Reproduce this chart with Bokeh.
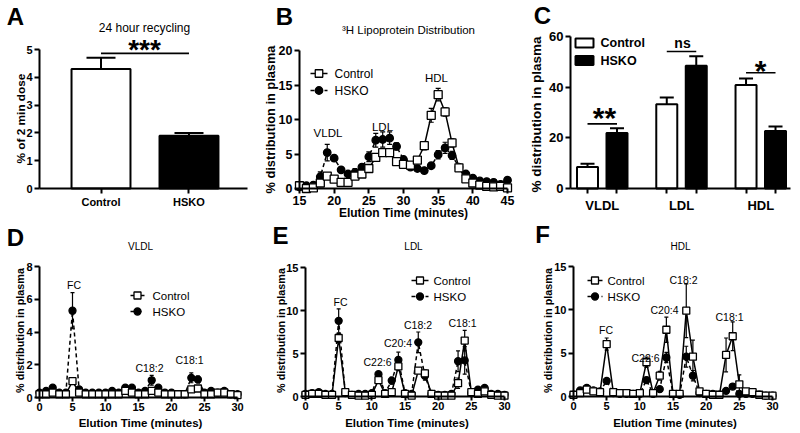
import math
from bokeh.plotting import figure
from bokeh.layouts import row, column
from bokeh.models import ColumnDataSource, Whisker, TeeHead, Label, FixedTicker, Range1d
from bokeh.embed import file_html
from bokeh.resources import INLINE

FONT = "Liberation Sans"

# ---------------- data ----------------
# Panel A
recycling_groups = ["Control", "HSKO"]
recycling_mean = [4.3, 1.9]
recycling_sem = [0.4, 0.1]
recycling_sig = "***"
recycling_yticks = [0, 1, 2, 3, 4, 5]

# Panel B
dist_time = [15, 16, 17, 18, 19, 20, 21, 22, 23, 24, 25, 26, 27, 28, 29, 30,
             31, 32, 33, 34, 35, 36, 37, 38, 39, 40, 41, 42, 43, 44, 45]
dist_control = [0.4, 0.0, 0.1, 0.8, 1.8, 1.35, 0.9, 0.9, 1.8, 2.1, 2.9, 4.5, 5.2, 5.2, 3.9, 3.5,
                3.4, 4.1, 6.2, 10.6, 13.6, 11.1, 6.6, 3.0, 1.4, 0.8, 0.5, 0.3, 0.25, 0.3, 0.1]
dist_control_err = [0.1, 0.1, 0.1, 0.2, 0.3, 0.2, 0.1, 0.1, 0.2, 0.2, 0.3, 0.3, 0.3, 0.3, 0.3, 0.2,
                    0.2, 0.3, 0.6, 1.0, 0.9, 0.6, 0.6, 0.3, 0.2, 0.1, 0.1, 0.1, 0.1, 0.1, 0.1]
dist_hsko = [0.25, 0.4, 0.5, 1.7, 5.2, 4.4, 2.7, 2.1, 2.3, 3.1, 4.6, 7.0, 7.1, 7.3, 6.1, 4.2,
             3.1, 2.9, 2.6, 3.3, 4.9, 5.9, 4.8, 3.1, 2.1, 1.5, 1.1, 1.0, 0.9, 0.6, 1.2]
dist_hsko_err = [0.1, 0.1, 0.2, 0.7, 1.2, 0.4, 0.3, 0.3, 0.6, 0.3, 0.7, 1.0, 1.1, 0.9, 0.5, 0.3,
                 0.2, 0.2, 0.2, 0.3, 0.6, 0.8, 0.6, 0.3, 0.3, 0.2, 0.2, 0.2, 0.2, 0.2, 0.3]
dist_peaks = ["VLDL", "LDL", "HDL"]
dist_xticks = [15, 20, 25, 30, 35, 40, 45]
dist_yticks = [0, 5, 10, 15, 20]

# Panel C
class_names = ["VLDL", "LDL", "HDL"]
class_control = [8.5, 33.3, 40.9]
class_control_err = [1.3, 2.6, 2.5]
class_hsko = [21.9, 48.5, 22.7]
class_hsko_err = [1.9, 3.7, 1.8]
class_sig = ["**", "ns", "*"]
class_sig_y = [25.5, 54.1, 45.7]
class_yticks = [0, 20, 40, 60]

# Panels D, E, F
ce_time = [0, 1, 2, 3, 4, 5, 6, 7, 8, 9, 10, 11, 12, 13, 14, 15,
           16, 17, 18, 19, 20, 21, 22, 23, 24, 25, 26, 27, 28, 29, 30]
ce_xticks = [0, 5, 10, 15, 20, 25, 30]

vldl_control = [0.2, 0.2, 0.3, 0.2, 0.2, 1.0, 0.3, 0.2, 0.2, 0.2, 0.2, 0.2, 0.2, 0.4, 0.3, 0.2,
                0.2, 0.4, 0.3, 0.2, 0.2, 0.2, 0.2, 0.5, 0.55, 0.2, 0.2, 0.3, 0.3, 0.2, 0.15]
vldl_control_err = [0.05, 0.05, 0.05, 0.05, 0.05, 0.15, 0.05, 0.05, 0.05, 0.05, 0.05, 0.05, 0.05, 0.1, 0.05, 0.05,
                    0.05, 0.1, 0.05, 0.05, 0.05, 0.05, 0.05, 0.15, 0.15, 0.05, 0.05, 0.05, 0.05, 0.05, 0.05]
vldl_hsko = [0.3, 0.4, 0.6, 0.3, 0.3, 5.3, 0.5, 0.3, 0.3, 0.3, 0.3, 0.4, 0.3, 0.6, 0.6, 0.3,
             0.4, 1.05, 0.6, 0.3, 0.3, 0.2, 0.2, 1.2, 1.1, 0.3, 0.4, 0.3, 0.4, 0.2, 0.2]
vldl_hsko_err = [0.1, 0.1, 0.15, 0.1, 0.1, 1.1, 0.1, 0.1, 0.1, 0.1, 0.1, 0.1, 0.1, 0.15, 0.15, 0.1,
                 0.1, 0.3, 0.1, 0.1, 0.1, 0.1, 0.1, 0.3, 0.2, 0.1, 0.1, 0.1, 0.1, 0.1, 0.1]
vldl_yticks = [0, 2, 4, 6, 8]
vldl_peaks = ["FC", "C18:2", "C18:1"]

ldl_control = [0.2, 0.3, 0.3, 0.2, 0.2, 6.8, 0.5, 0.2, 0.1, 0.1, 0.2, 1.9, 0.3, 0.5, 3.5, 0.3,
               0.1, 3.0, 2.7, 0.3, 0.1, 0.1, 0.1, 1.55, 6.5, 0.5, 0.3, 0.6, 0.2, 0.1, 0.1]
ldl_control_err = [0.1, 0.1, 0.1, 0.1, 0.1, 0.5, 0.1, 0.1, 0.1, 0.1, 0.1, 0.3, 0.1, 0.2, 0.5, 0.1,
                   0.1, 0.3, 0.4, 0.1, 0.1, 0.1, 0.1, 0.6, 1.2, 0.1, 0.1, 0.2, 0.1, 0.1, 0.1]
ldl_hsko = [0.3, 0.4, 0.5, 0.3, 0.3, 8.8, 0.4, 0.2, 0.3, 0.3, 0.4, 2.6, 0.4, 1.85, 4.25, 0.4,
            0.3, 6.3, 2.4, 0.3, 0.2, 0.2, 0.3, 4.1, 4.2, 0.4, 0.8, 1.0, 0.3, 0.3, 0.2]
ldl_hsko_err = [0.1, 0.1, 0.1, 0.1, 0.1, 1.4, 0.1, 0.1, 0.1, 0.1, 0.1, 0.3, 0.1, 0.4, 0.9, 0.1,
                0.1, 1.2, 0.5, 0.1, 0.1, 0.1, 0.1, 1.2, 1.6, 0.1, 0.1, 0.2, 0.1, 0.1, 0.1]
ldl_yticks = [0, 5, 10, 15]
ldl_peaks = ["FC", "C22:6", "C20:4", "C18:2", "C18:1"]

hdl_control = [0.2, 0.4, 0.8, 0.6, 0.5, 6.05, 0.5, 0.4, 0.4, 0.3, 0.4, 3.95, 0.4, 2.4, 7.7, 0.3,
               0.3, 9.9, 4.6, 0.6, 0.3, 0.2, 0.2, 4.8, 6.95, 1.4, 0.6, 0.5, 0.2, 0.1, 0.1]
hdl_control_err = [0.1, 0.1, 0.2, 0.1, 0.1, 0.7, 0.1, 0.1, 0.1, 0.1, 0.1, 0.6, 0.1, 0.5, 1.45, 0.1,
                   0.1, 3.1, 1.9, 0.2, 0.1, 0.1, 0.1, 1.95, 1.65, 1.1, 0.1, 0.1, 0.1, 0.1, 0.1]
hdl_hsko = [0.2, 0.7, 1.0, 0.7, 0.6, 1.8, 0.4, 0.3, 0.3, 0.3, 0.3, 1.9, 0.3, 0.85, 4.5, 0.3,
            0.2, 4.6, 2.4, 0.4, 0.3, 0.3, 0.2, 0.65, 1.15, 0.3, 0.3, 0.3, 0.2, 0.1, 0.1]
hdl_hsko_err = [0.1, 0.1, 0.1, 0.1, 0.1, 0.2, 0.1, 0.1, 0.1, 0.1, 0.1, 0.2, 0.1, 0.2, 0.6, 0.1,
                0.1, 1.2, 0.6, 0.1, 0.1, 0.1, 0.1, 0.1, 0.2, 0.1, 0.1, 0.1, 0.1, 0.1, 0.1]
hdl_yticks = [0, 5, 10, 15]
hdl_peaks = ["FC", "C22:6", "C20:4", "C18:2", "C18:1"]

series_names = ["Control", "HSKO"]


# ---------------- layout helpers ----------------
class Geo:
    """Figure box and axis box (page pixels) plus the data values at the axis box edges."""
    def __init__(self, fx, fy, fw, fh, L, R, T, B, x0, x1, y0, y1):
        self.fx, self.fy, self.fw, self.fh = fx, fy, fw, fh
        self.L, self.R, self.T, self.B = L, R, T, B
        self.x0, self.x1, self.y0, self.y1 = x0, x1, y0, y1

    def d(self, wx, wy):
        x = self.x0 + (wx - self.L) * (self.x1 - self.x0) / (self.R - self.L)
        y = self.y0 + (self.B - wy) * (self.y1 - self.y0) / (self.B - self.T)
        return x, y


def make_fig(g):
    xs, ye = g.d(g.fx, g.fy)
    xe, ys = g.d(g.fx + g.fw, g.fy + g.fh)
    p = figure(width=g.fw, height=g.fh, title=None,
               x_range=Range1d(xs, xe), y_range=Range1d(ys, ye),
               output_backend="svg", toolbar_location=None,
               min_border_left=0, min_border_right=0, min_border_top=0, min_border_bottom=0)
    p.outline_line_color = None
    p.xgrid.visible = False
    p.ygrid.visible = False
    p.background_fill_color = "white"
    p.border_fill_color = "white"
    p.xaxis.fixed_location = g.y0
    p.yaxis.fixed_location = g.x0
    p.xaxis.bounds = (g.x0, g.x1)
    p.yaxis.bounds = (g.y0, g.y1)
    return p


def style_axis(ax, size, ticks, overrides=None, minor=None, tick_out=5, standoff=2):
    if minor is not None:
        ax.ticker = FixedTicker(ticks=ticks, minor_ticks=minor)
    else:
        ax.ticker = FixedTicker(ticks=ticks)
    ax.axis_line_width = 2
    ax.axis_line_color = "black"
    ax.major_tick_line_width = 2
    ax.major_tick_line_color = "black"
    ax.major_tick_in = 0
    ax.major_tick_out = tick_out
    ax.minor_tick_in = 0
    ax.minor_tick_out = 0
    ax.major_label_text_font = FONT
    ax.major_label_text_font_size = f"{size}px"
    ax.major_label_text_font_style = "bold"
    ax.major_label_text_color = "black"
    ax.major_label_standoff = standoff
    if overrides:
        ax.major_label_overrides = overrides


def text(p, g, s, wx, wy, size, bold=False, angle=0.0, align="center", baseline="middle"):
    x, y = g.d(wx, wy)
    p.add_layout(Label(x=x, y=y, text=s, text_font=FONT, text_font_size=f"{size}px",
                       text_font_style="bold" if bold else "normal", text_color="black",
                       text_align=align, text_baseline=baseline, angle=angle))


def stars(p, g, s, wx, wy, size):
    # asterisks sit high in the em box: shift the anchor down so the ink centres on wy
    text(p, g, s, wx, wy + 0.15 * size, size, bold=True)


def series(p, t, vals, errs, dash, marker, fill, msize, cap):
    lo = [max(v - e, 0) for v, e in zip(vals, errs)]
    hi = [v + e for v, e in zip(vals, errs)]
    src = ColumnDataSource(dict(x=t, y=vals, lo=lo, hi=hi))
    w = Whisker(source=src, base="x", lower="lo", upper="hi", line_color="black", line_width=1.2,
                upper_head=TeeHead(size=cap, line_width=1.2, line_color="black"),
                lower_head=TeeHead(size=cap, line_width=1.2, line_color="black"))
    p.add_layout(w)
    p.line("x", "y", source=src, line_color="black", line_width=1.5, line_dash=dash)
    p.scatter("x", "y", source=src, marker=marker, size=msize, fill_color=fill,
              line_color="black", line_width=1.3)


def line_legend(p, g, wx0, wx1, wys, tx, size, msize):
    styles = [("solid", "square", "white"), ("4 3", "circle", "black")]
    for (dash, marker, fill), wy, name in zip(styles, wys, series_names):
        x0, y = g.d(wx0, wy)
        x1, _ = g.d(wx1, wy)
        p.segment(x0=[x0], y0=[y], x1=[x1], y1=[y], line_color="black", line_width=1.5, line_dash=dash)
        p.scatter(x=[(x0 + x1) / 2], y=[y], marker=marker, size=msize, fill_color=fill,
                  line_color="black", line_width=1.3)
        text(p, g, name, tx, wy, size, align="left")


def bar_whisker(p, xs, tops, errs, cap):
    src = ColumnDataSource(dict(x=xs, lo=tops, hi=[a + b for a, b in zip(tops, errs)]))
    p.add_layout(Whisker(source=src, base="x", lower="lo", upper="hi", line_color="black",
                         line_width=2, lower_head=None,
                         upper_head=TeeHead(size=cap, line_width=2, line_color="black")))


# ---------------- Panel A ----------------
gA = Geo(0, 0, 262, 220, 39, 247, 49, 188, 0.301, 2.665, 0, 5)
pA = make_fig(gA)
a_pos = [1, 2]
bar_whisker(pA, a_pos, recycling_mean, recycling_sem, 29)
pA.vbar(x=a_pos, top=recycling_mean, width=0.67, fill_color=["white", "black"],
        line_color="black", line_width=2)
style_axis(pA.xaxis[0], 11, a_pos, {p_: n for p_, n in zip(a_pos, recycling_groups)})
style_axis(pA.yaxis[0], 11, recycling_yticks)
pA.segment(x0=[a_pos[0]], x1=[a_pos[1]], y0=[4.86], y1=[4.86], line_color="black", line_width=1.6)
stars(pA, gA, recycling_sig, 144, 44.7, 28)
text(pA, gA, "24 hour recycling", 144, 27.5, 12)
text(pA, gA, "% of 2 min dose", 20, 118, 11.8, bold=True, angle=math.pi / 2)
text(pA, gA, "A", 15, 15.5, 24, bold=True)

# ---------------- Panel B ----------------
gB = Geo(262, 0, 268, 220, 299, 507, 50, 188, 15, 45, 0, 20)
pB = make_fig(gB)
series(pB, dist_time, dist_hsko, dist_hsko_err, "4 3", "circle", "black", 7.5, 5)
series(pB, dist_time, dist_control, dist_control_err, "solid", "square", "white", 8, 5)
style_axis(pB.xaxis[0], 12.5, dist_xticks)
style_axis(pB.yaxis[0], 12.5, dist_yticks)
line_legend(pB, gB, 310, 327, [73, 90], 334, 12, 7.5)
text(pB, gB, dist_peaks[0], 327.5, 132.5, 11.5)
text(pB, gB, dist_peaks[1], 382, 126, 11.5)
text(pB, gB, dist_peaks[2], 436, 77, 11.5)
text(pB, gB, "\u00b3H Lipoprotein Distribution", 408, 29, 11.5)
text(pB, gB, "Elution Time (minutes)", 403, 212, 12, bold=True)
text(pB, gB, "% distribution in plasma", 270, 119, 12.8, bold=True, angle=math.pi / 2)
text(pB, gB, "B", 284, 15.5, 24, bold=True)

# ---------------- Panel C ----------------
gC = Geo(530, 0, 270, 220, 570, 790, 36, 188, 0.5994, 3.375, 0, 60)
pC = make_fig(gC)
c_groups = [1, 2, 3]
c_ctrl_x = [gp - 0.186 for gp in c_groups]
c_hsko_x = [gp + 0.186 for gp in c_groups]
bar_whisker(pC, c_ctrl_x, class_control, class_control_err, 14)
bar_whisker(pC, c_hsko_x, class_hsko, class_hsko_err, 14)
pC.vbar(x=c_ctrl_x, top=class_control, width=0.265, fill_color="white", line_color="black", line_width=2)
pC.vbar(x=c_hsko_x, top=class_hsko, width=0.265, fill_color="black", line_color="black", line_width=2)
style_axis(pC.xaxis[0], 13, c_groups, {gp: n for gp, n in zip(c_groups, class_names)},
           minor=c_ctrl_x + c_hsko_x, tick_out=0, standoff=4)
pC.xaxis[0].minor_tick_out = 5
pC.xaxis[0].minor_tick_line_width = 2
pC.xaxis[0].minor_tick_line_color = "black"
style_axis(pC.yaxis[0], 13, class_yticks)
pC.segment(x0=c_ctrl_x, x1=c_hsko_x, y0=class_sig_y, y1=class_sig_y, line_color="black", line_width=1.6)
stars(pC, gC, class_sig[0], 604, 112.5, 30)
text(pC, gC, class_sig[1], 682, 42.5, 14, bold=True)
stars(pC, gC, class_sig[2], 760, 65.5, 30)
for wy, fill, name in zip([42.5, 60], ["white", "black"], series_names):
    cx, cy = gC.d(584, wy)
    pC.rect(x=[cx], y=[cy], width=18, height=9, width_units="screen", height_units="screen",
            fill_color=fill, line_color="black", line_width=2)
    text(pC, gC, name, 600, wy, 12.5, bold=True, align="left")
text(pC, gC, "% distribution in plasma", 536, 114, 13.5, bold=True, angle=math.pi / 2)
text(pC, gC, "C", 542, 15, 24, bold=True)


# ---------------- Panels D, E, F ----------------
def ce_panel(g, ctrl, ctrl_err, hsko, hsko_err, yticks, title, title_x, letter, letter_xy,
             ylab_x, leg, peaks, peak_xy):
    p = make_fig(g)
    series(p, ce_time, hsko, hsko_err, "4 3", "circle", "black", 7, 4)
    series(p, ce_time, ctrl, ctrl_err, "solid", "square", "white", 7, 4)
    style_axis(p.xaxis[0], 11, ce_xticks, tick_out=4, standoff=1)
    style_axis(p.yaxis[0], 11, yticks)
    line_legend(p, g, leg[0], leg[1], [leg[2], leg[2] + 16], leg[3], 11.5, 7)
    for name, (wx, wy) in zip(peaks, peak_xy):
        text(p, g, name, wx, wy, 10.5)
    text(p, g, title, title_x, 246, 10)
    text(p, g, "Elution Time (minutes)", (g.L + g.R) / 2 + 2, 422, 11.5, bold=True)
    text(p, g, "% distribution in plasma", ylab_x, 330, 10.8, bold=True, angle=math.pi / 2)
    text(p, g, letter, letter_xy[0], letter_xy[1], 24, bold=True)
    return p


gD = Geo(0, 220, 262, 213, 39, 237, 266, 397, 0, 30, 0, 8)
pD = ce_panel(gD, vldl_control, vldl_control_err, vldl_hsko, vldl_hsko_err, vldl_yticks,
              "VLDL", 140, "D", (15, 236.5), 19.5, (130, 144, 295, 152), vldl_peaks,
              [(73.5, 284), (149, 367.5), (189, 359)])

gE = Geo(262, 220, 268, 213, 305, 504, 267, 396, 0, 30, 0, 15)
pE = ce_panel(gE, ldl_control, ldl_control_err, ldl_hsko, ldl_hsko_err, ldl_yticks,
              "LDL", 413, "E", (280, 235), 280, (411, 428, 280, 433), ldl_peaks,
              [(340, 301), (377, 361), (397.5, 342.5), (417.5, 324), (462, 322.5)])

gF = Geo(530, 220, 270, 213, 573, 772, 266, 396, 0, 30, 0, 15)
pF = ce_panel(gF, hdl_control, hdl_control_err, hdl_hsko, hdl_hsko_err, hdl_yticks,
              "HDL", 680, "F", (542, 233.5), 547, (587, 602, 280, 607), hdl_peaks,
              [(605.5, 329), (645, 357), (664, 309), (683, 279), (729, 316.5)])

layout = column(row(pA, pB, pC), row(pD, pE, pF))
open("out.html", "w").write(file_html(layout, INLINE))
